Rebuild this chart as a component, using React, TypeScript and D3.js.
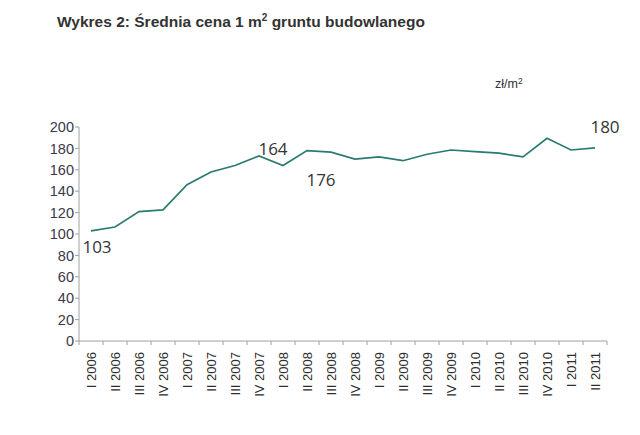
import React from "react";
import * as d3 from "d3";

const categories = [
  "I 2006", "II 2006", "III 2006", "IV 2006",
  "I 2007", "II 2007", "III 2007", "IV 2007",
  "I 2008", "II 2008", "III 2008", "IV 2008",
  "I 2009", "II 2009", "III 2009", "IV 2009",
  "I 2010", "II 2010", "III 2010", "IV 2010",
  "I 2011", "II 2011",
];

const values = [
  103, 106.5, 121, 122.5, 146, 158, 164, 173, 164, 178, 176.5,
  170, 172, 168.5, 174.5, 178.5, 177, 175.5, 172, 189.5, 178.5, 180.5,
];

const labelledPoints = [0, 8, 10, 21];
const labelTexts = ["103", "164", "176", "180"];
const yTicks = [0, 20, 40, 60, 80, 100, 120, 140, 160, 180, 200];

const W = 640;
const H = 435;
const left = 79;
const right = 607;
const top = 127;
const bottom = 341;

export default function App() {
  const x = d3.scaleBand<string>().domain(categories).range([left, right]);
  const y = d3.scaleLinear().domain([0, 200]).range([bottom, top]);
  const cx = (i: number) => (x(categories[i]) as number) + x.bandwidth() / 2;

  const line = d3
    .line<number>()
    .x((_, i) => cx(i))
    .y((d) => y(d));

  const labelOffsets: Record<number, [number, number]> = {
    0: [6, 22],
    8: [-10, -11],
    10: [-10, 34],
    21: [10, -15],
  };

  const tickColor = "#3d3848";
  const axisColor = "#a0a0a0";

  return (
    <svg
      width={W}
      height={H}
      style={{ position: "absolute", left: 0, top: 0, background: "#fff" }}
    >
      <rect x={0} y={0} width={W} height={H} fill="#fff" />
      <text
        x={57}
        y={27}
        fontFamily="Liberation Sans, Arial, sans-serif"
        fontWeight="bold"
        fontSize={15.5}
        fill="#333"
      >
        Wykres 2: Średnia cena 1 m
        <tspan fontSize={10} dy={-6}>2</tspan>
        <tspan dy={6}> gruntu budowlanego</tspan>
      </text>

      <text
        x={495}
        y={88}
        fontFamily="Liberation Sans, Arial, sans-serif"
        fontSize={12.5}
        fill="#333"
      >
        zł/m<tspan fontSize={8.5} dy={-4}>2</tspan>
      </text>

      <line x1={left} x2={left} y1={top} y2={bottom} stroke={axisColor} strokeWidth={1} />
      {yTicks.map((t) => (
        <g key={t}>
          <line x1={left - 4} x2={left} y1={y(t)} y2={y(t)} stroke={axisColor} />
          <text
            x={left - 5}
            y={y(t)}
            dy="0.36em"
            textAnchor="end"
            fontFamily="Liberation Sans, Arial, sans-serif"
            fontSize={14.5}
            fill={tickColor}
          >
            {t}
          </text>
        </g>
      ))}

      <line x1={left} x2={right} y1={bottom} y2={bottom} stroke={axisColor} strokeWidth={1} />
      {categories.map((c) => (
        <line
          key={"t" + c}
          x1={x(c) as number}
          x2={x(c) as number}
          y1={bottom}
          y2={bottom + 4}
          stroke={axisColor}
        />
      ))}
      <line x1={right} x2={right} y1={bottom} y2={bottom + 4} stroke={axisColor} />
      {categories.map((c, i) => (
        <text
          key={"l" + c}
          transform={`translate(${cx(i)},${352}) rotate(-90)`}
          dy="0.36em"
          textAnchor="end"
          fontFamily="Liberation Sans, Arial, sans-serif"
          fontSize={13}
          fill="#2e2e2e"
        >
          {c}
        </text>
      ))}

      <path d={line(values) ?? ""} fill="none" stroke="#2a7a74" strokeWidth={1.7} />

      {labelledPoints.map((idx, k) => {
        const [dx, dy] = labelOffsets[idx];
        return (
          <text
            key={"dl" + idx}
            x={cx(idx) + dx}
            y={y(values[idx]) + dy}
            textAnchor="middle"
            fontFamily="Open Sans, Liberation Sans, sans-serif"
            fontSize={17}
            fill="#333"
          >
            {labelTexts[k]}
          </text>
        );
      })}
    </svg>
  );
}
